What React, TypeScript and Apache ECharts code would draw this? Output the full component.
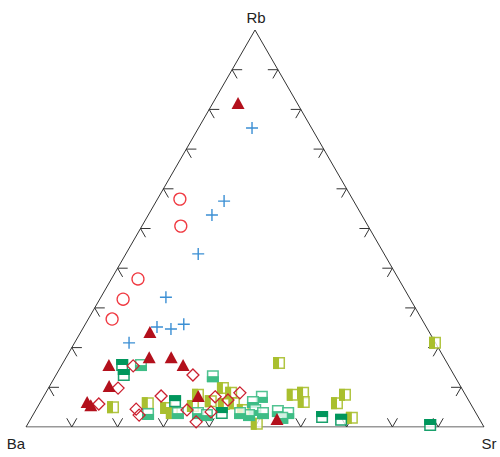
import React, { useEffect, useRef } from "react";
import * as echarts from "echarts";

// Ternary data: [Rb, Ba, Sr] in percent
const redTriangles = [
  [81.6, 12.9, 5.5], [23.9, 61.0, 15.1], [17.6, 64.3, 18.1], [17.6, 59.5, 22.9],
  [15.6, 74.1, 10.3], [15.6, 57.9, 26.5], [10.3, 76.7, 13.0], [6.3, 83.5, 10.2],
  [5.5, 83.1, 11.4], [7.8, 58.5, 33.7], [2.0, 44.2, 53.8],
];
const blueCrosses = [
  [75.3, 13.0, 11.7], [56.9, 28.3, 14.8], [53.4, 32.7, 13.9], [43.6, 40.6, 15.8],
  [32.7, 53.1, 14.2], [25.9, 52.6, 21.5], [24.7, 56.0, 19.3], [25.2, 58.8, 16.0],
  [21.2, 66.9, 11.9],
];
const redCircles = [
  [57.4, 37.7, 4.9], [50.6, 40.9, 8.5], [37.3, 56.9, 5.8], [32.2, 62.7, 5.1], [27.2, 67.6, 5.2],
];
const redDiamonds = [
  [15.4, 68.9, 15.7], [13.1, 57.0, 29.9], [9.8, 75.0, 15.2], [5.8, 81.2, 13.0],
  [7.8, 66.6, 25.6], [4.5, 73.7, 21.8], [3.0, 73.8, 23.2], [7.6, 54.9, 37.5],
  [6.8, 52.5, 40.7], [8.6, 49.0, 42.4], [4.3, 62.7, 33.0], [1.3, 62.2, 36.5],
  [3.8, 57.7, 38.5],
];
const darkGreenSquares = [
  [15.6, 71.2, 13.2], [13.1, 72.1, 14.8], [6.5, 64.2, 29.3], [3.5, 55.5, 41.0],
  [2.5, 34.1, 63.4], [1.8, 30.3, 67.9], [0.5, 11.5, 88.0],
];
const mediumGreenSquares = [
  [15.6, 67.1, 17.3], [12.8, 52.8, 34.4], [3.3, 71.7, 25.0], [7.6, 44.7, 47.7],
  [6.3, 47.3, 46.4], [4.3, 47.8, 47.9], [3.0, 49.8, 47.2], [4.0, 43.0, 53.0],
  [3.5, 41.0, 55.5], [2.3, 42.9, 54.8], [3.5, 60.7, 35.8], [3.0, 59.0, 38.0],
  [3.5, 65.1, 31.4], [3.5, 51.5, 45.0], [3.5, 46.5, 50.0],
];
const oliveSquares = [
  [16.1, 36.7, 47.2], [21.2, 0.1, 78.7], [5.0, 78.5, 16.5], [6.0, 70.4, 23.6],
  [4.8, 67.0, 28.2], [3.5, 66.4, 30.1], [5.3, 60.9, 33.8], [8.1, 58.4, 33.5],
  [6.5, 56.4, 37.1], [9.8, 52.1, 38.1], [8.6, 50.9, 40.5], [6.0, 51.6, 42.4],
  [4.3, 50.5, 45.2], [0.8, 49.2, 50.0], [8.1, 37.7, 54.2], [8.6, 35.2, 56.2],
  [6.3, 36.2, 57.5], [6.0, 29.1, 64.9], [8.1, 26.3, 65.6], [2.3, 27.7, 70.0],
  [5.8, 53.9, 40.3],
];
const tickSteps = [10, 20, 30, 40, 50, 60, 70, 80, 90];
const vertexLabels = ["Rb", "Ba", "Sr"];

const H = Math.sqrt(3) / 2;
const toXY = (p: number[]) => {
  const rb = p[0] / 100;
  const sr = p[2] / 100;
  return [sr + rb / 2, rb * H];
};

export default function App() {
  const ref = useRef<HTMLDivElement>(null);
  useEffect(() => {
    if (!ref.current) return;
    const chart = echarts.init(ref.current, null, { renderer: "svg" });

    const L = 0.022;
    const ticks: number[][] = [];
    tickSteps.forEach((s) => {
      const t = s / 100;
      ticks.push([t, 0, t - L / 2, L * H]);
      ticks.push([t, 0, t + L / 2, L * H]);
      const lx = t / 2, ly = t * H;
      ticks.push([lx, ly, lx + L, ly]);
      ticks.push([lx, ly, lx + L / 2, ly - L * H]);
      const rx = 1 - t / 2, ry = t * H;
      ticks.push([rx, ry, rx - L, ry]);
      ticks.push([rx, ry, rx - L / 2, ry - L * H]);
    });

    const halfSquare = (data: number[][], color: string, mode: string, z: number) => ({
      type: "custom",
      z,
      data: data.map(toXY),
      renderItem: (_p: any, api: any) => {
        const c = api.coord([api.value(0), api.value(1)]);
        const s = 12;
        const x = c[0] - s / 2;
        const y = c[1] - s / 2;
        let fr: any;
        if (mode === "top") fr = { x, y, width: s, height: s / 2 };
        else if (mode === "bottom") fr = { x, y: y + s / 2, width: s, height: s / 2 };
        else fr = { x, y, width: s / 2, height: s };
        return {
          type: "group",
          children: [
            {
              type: "rect",
              shape: { x: x + 0.75, y: y + 0.75, width: s - 1.5, height: s - 1.5 },
              style: { fill: "rgba(255,255,255,0.85)", stroke: color, lineWidth: 1.5, opacity: 0.9 },
            },
            { type: "rect", shape: fr, style: { fill: color } },
          ],
        };
      },
    });

    const font = "15px 'Liberation Sans', Arial, sans-serif";
    const lbl = (text: string, x: number, y: number) => ({
      type: "text",
      x,
      y,
      style: { text, font, fill: "#222", align: "center", verticalAlign: "middle" },
    });
    chart.setOption({
      animation: false,
      grid: { left: 26, right: 16, top: 30, bottom: 30 },
      xAxis: { type: "value", min: 0, max: 1, show: false },
      yAxis: { type: "value", min: 0, max: H, show: false },
      series: [
        {
          type: "line",
          data: [[0, 0], [1, 0], [0.5, H], [0, 0]],
          symbol: "none",
          lineStyle: { color: "#333", width: 1 },
          z: 1,
        },
        {
          type: "custom",
          data: ticks,
          z: 1,
          renderItem: (_p: any, api: any) => {
            const a = api.coord([api.value(0), api.value(1)]);
            const b = api.coord([api.value(2), api.value(3)]);
            return {
              type: "line",
              shape: { x1: a[0], y1: a[1], x2: b[0], y2: b[1] },
              style: { stroke: "#333", lineWidth: 1 },
            };
          },
        },
        halfSquare(oliveSquares, "#a9bf2e", "left", 2),
        halfSquare(mediumGreenSquares, "#3ebd86", "bottom", 3),
        halfSquare(darkGreenSquares, "#00965c", "top", 4),
        {
          type: "scatter",
          data: redDiamonds.map(toXY),
          symbol: "diamond",
          symbolSize: [12, 12],
          itemStyle: { color: "transparent", borderColor: "#cc2030", borderWidth: 1.3, opacity: 1 },
          z: 5,
        },
        {
          type: "scatter",
          data: redCircles.map(toXY),
          symbol: "circle",
          symbolSize: 12,
          itemStyle: { color: "transparent", borderColor: "#f03a42", borderWidth: 1.3, opacity: 1 },
          z: 5,
        },
        {
          type: "scatter",
          data: blueCrosses.map(toXY),
          symbol: "path://M0,5H10M5,0V10",
          symbolSize: 12,
          itemStyle: { color: "transparent", borderColor: "#3b8fd4", borderWidth: 1.4, opacity: 1 },
          z: 6,
        },
        {
          type: "scatter",
          data: redTriangles.map(toXY),
          symbol: "triangle",
          symbolSize: [13, 12],
          itemStyle: { color: "#b3101c", opacity: 1 },
          z: 7,
        },
      ],
      graphic: [
        lbl(vertexLabels[0], 256, 17),
        lbl(vertexLabels[1], 16, 443),
        lbl(vertexLabels[2], 489, 443),
      ],
    });
    return () => chart.dispose();
  }, []);
  return (
    <div
      ref={ref}
      style={{ position: "absolute", left: 0, top: 0, width: 500, height: 457 }}
    />
  );
}
